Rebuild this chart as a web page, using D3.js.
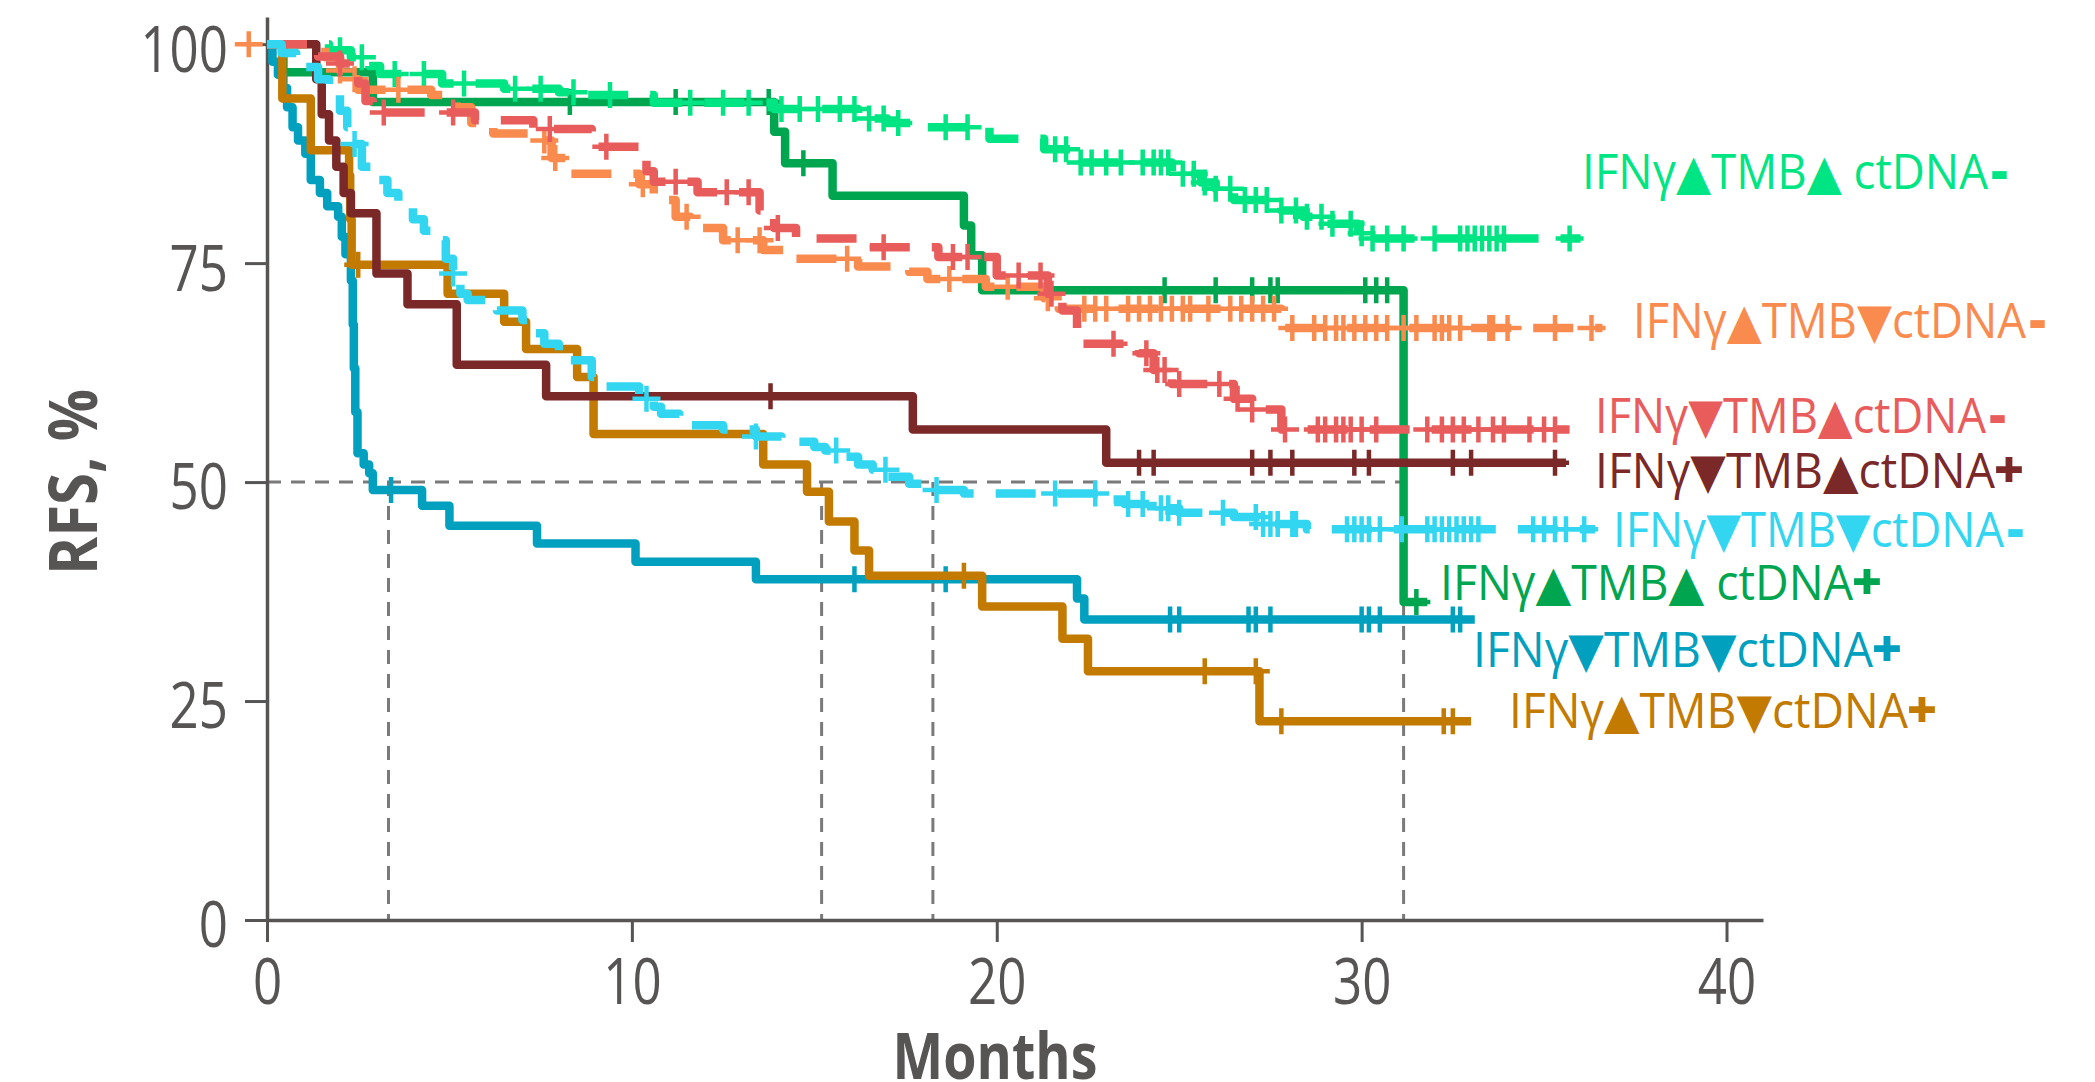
<!DOCTYPE html>
<html>
<head>
<meta charset="utf-8">
<title>RFS by IFNγ / TMB / ctDNA group</title>
<script src="https://cdn.jsdelivr.net/npm/d3@7"></script>
<style>
  html, body { margin: 0; padding: 0; background: #fff; }
  svg { display: block; }
  text { font-family: "Liberation Sans Narrow", "Open Sans", "DejaVu Sans", sans-serif; }
</style>
</head>
<body>
<script>
// ---- data: [month, RFS %] after each drop, curve starts at (0,100)

// IFNγ▲TMB▲ ctDNA-
var greenLightSteps = [[1.7,99.3],[2.3,98.5],[2.8,97.5],[3.1,96.6],[4.8,95.5],[6.5,94.9],[8.0,94.5],[8.8,94.2],[10.6,93.3],[13.9,92.6],[16.2,91.5],[17.0,91.0],[18.0,90.5],[19.8,89.2],[21.3,88.0],[22.2,86.5],[24.8,85.2],[25.6,84.2],[26.0,83.5],[26.5,82.2],[27.8,81.0],[28.4,80.3],[29.0,79.5],[29.9,78.4],[30.2,77.8]];
var greenLightCensor = [2.0,2.6,3.5,4.3,5.4,6.8,7.5,8.4,9.4,11.6,12.5,13.2,14.1,14.6,15.1,15.7,16.1,16.5,16.9,17.3,18.6,19.2,21.6,21.9,22.3,22.6,23.0,23.4,24.0,24.3,24.5,24.7,25.1,25.4,25.7,26.0,26.4,26.8,27.1,27.4,27.8,28.2,28.5,28.9,29.2,29.7,30.0,30.3,30.7,31.15,32.0,32.7,32.9,33.1,33.3,33.5,33.7,33.9,35.7];
var greenLightEnd = 36.0;

// IFNγ▲TMB▼ctDNA-
var orangeSteps = [[1.6,98.5],[2.0,97.0],[2.2,96.0],[2.5,94.8],[4.5,94.2],[5.2,92.8],[5.6,91.0],[6.2,89.8],[7.4,89.0],[7.8,87.0],[8.2,85.2],[10.2,84.0],[10.6,82.2],[11.2,80.3],[11.6,79.0],[12.5,77.6],[13.6,76.5],[14.5,75.5],[16.2,74.6],[17.6,74.0],[18.1,73.2],[19.7,72.3],[21.3,71.0],[21.7,69.8],[27.8,67.6]];
var orangeCensor = [-0.5,2.0,2.4,3.6,7.6,7.9,10.3,11.5,12.9,13.5,15.9,18.7,20.3,21.4,22.4,22.7,23.0,23.6,23.9,24.2,24.5,24.8,25.1,25.3,25.8,26.4,26.7,27.0,27.3,27.6,28.1,28.7,29.0,29.3,29.5,29.8,30.1,30.4,30.7,31.15,31.5,32.0,32.2,32.4,32.7,33.5,33.6,34.0,35.3,36.3];
var orangeEnd = 36.6;

// IFNγ▼TMB▲ctDNA-
var redSteps = [[1.4,98.6],[2.0,97.8],[2.4,97.1],[2.5,95.5],[2.7,93.5],[2.9,92.2],[5.7,91.3],[7.3,90.3],[8.9,88.3],[10.4,85.5],[10.6,84.3],[11.8,83.1],[13.5,81.0],[13.9,79.0],[14.5,77.8],[16.5,76.8],[18.4,75.7],[20.0,73.6],[21.4,71.5],[21.8,69.6],[22.2,65.8],[23.9,64.7],[24.3,62.8],[24.8,61.2],[26.5,59.5],[27.0,58.3],[27.8,56.0]];
var redCensor = [2.0,3.2,5.1,7.75,9.3,11.2,12.6,13.2,14.0,16.9,18.8,19.2,20.6,21.2,21.5,23.2,24.1,24.4,24.6,25.0,26.1,26.6,27.0,27.9,28.8,29.0,29.3,29.5,29.7,30.0,30.4,31.8,32.2,32.5,32.8,33.2,33.6,33.9,34.6,35.0,35.3];
var redEnd = 35.7;

// IFNγ▼TMB▲ctDNA+
var maroonSteps = [[1.35,96.0],[1.5,92.0],[1.7,89.0],[1.9,86.0],[2.1,83.0],[2.3,80.7],[3.0,73.8],[3.85,70.3],[5.2,63.4],[7.65,59.8],[17.7,56.0],[23.0,52.2]];
var maroonCensor = [13.8,23.9,24.3,27.0,27.5,28.1,29.8,30.2,32.5,33.0,35.3];
var maroonEnd = 35.6;

// IFNγ▼TMB▼ctDNA-
var cyanSteps = [[0.4,99.0],[0.8,98.0],[1.0,97.4],[1.4,96.0],[1.7,94.7],[2.0,92.4],[2.2,90.5],[2.4,88.6],[2.6,86.0],[3.0,84.5],[3.3,83.0],[3.6,81.4],[4.0,80.0],[4.3,78.7],[4.6,77.6],[4.9,75.5],[5.1,73.8],[5.3,71.5],[5.5,70.8],[6.3,69.6],[7.0,68.5],[7.3,67.0],[7.6,65.8],[8.0,63.9],[8.9,62.0],[9.3,60.9],[10.2,59.5],[10.6,58.6],[10.8,57.8],[11.3,56.5],[12.5,56.0],[13.4,55.2],[14.1,54.6],[15.0,54.0],[15.3,53.6],[15.8,52.9],[16.2,52.0],[16.6,51.4],[17.0,50.6],[17.6,49.8],[18.2,49.1],[19.1,48.7],[22.8,48.0],[23.5,47.5],[24.5,47.0],[25.0,46.5],[26.5,46.0],[27.2,45.2],[28.5,44.6]];
var cyanCensor = [2.4,5.1,10.4,13.4,15.6,16.95,18.35,21.6,22.7,23.6,24.0,24.5,24.7,25.0,26.2,27.1,27.3,27.5,27.7,28.1,28.2,29.6,29.8,30.0,30.2,30.5,31.1,31.8,32.0,32.2,32.4,32.6,32.8,33.0,33.2,34.7,35.0,35.3,35.6,36.1];
var cyanEnd = 36.4;

// IFNγ▲TMB▲ ctDNA+
var greenDarkSteps = [[0.45,96.8],[2.9,93.4],[13.9,90.0],[14.2,86.4],[15.5,82.7],[19.1,79.3],[19.3,75.9],[19.6,71.9],[31.15,36.3]];
var greenDarkCensor = [8.3,11.2,13.75,14.7,24.6,26.0,27.0,27.5,27.7,30.1,30.4,30.7,31.5];
var greenDarkEnd = 31.8;

// IFNγ▼TMB▼ctDNA+
var tealSteps = [[0.15,98.0],[0.3,96.5],[0.45,95.0],[0.55,92.8],[0.7,90.5],[0.85,89.0],[1.05,87.5],[1.2,84.5],[1.45,83.0],[1.65,81.5],[1.95,80.3],[2.05,78.0],[2.15,76.0],[2.3,73.0],[2.35,68.0],[2.38,63.0],[2.42,58.0],[2.48,53.3],[2.65,52.0],[2.8,51.0],[2.9,49.1],[4.25,47.3],[5.0,45.0],[7.4,43.0],[10.1,40.9],[13.4,38.9],[22.2,36.7],[22.4,34.3]];
var tealCensor = [3.4,16.1,18.6,24.75,25.0,26.9,27.1,27.5,30.0,30.2,30.5,32.5,32.7];
var tealEnd = 33.1;

// IFNγ▲TMB▼ctDNA+
var goldSteps = [[0.42,93.8],[1.2,87.9],[2.25,85.0],[2.28,80.0],[2.32,74.8],[4.95,71.5],[6.5,68.3],[7.1,65.2],[8.5,62.0],[8.95,55.5],[13.6,52.0],[14.8,48.9],[15.4,45.5],[16.1,42.2],[16.5,39.3],[19.6,35.8],[21.8,32.1],[22.5,28.4],[27.2,22.7]];
var goldCensor = [2.5,19.1,25.7,27.1,27.8,32.25,32.5];
var goldEnd = 33.0;

// median lines (months where curves cross 50 %)
var medianMonths = [3.33, 15.2, 18.25, 31.15];

var xTicks = [0, 10, 20, 30, 40];
var yTicks = [0, 25, 50, 75, 100];

var groupNames = ["IFNγ▲TMB▲ ctDNA", "IFNγ▲TMB▼ctDNA", "IFNγ▼TMB▲ctDNA", "IFNγ▼TMB▲ctDNA",
                  "IFNγ▼TMB▼ctDNA", "IFNγ▲TMB▲ ctDNA", "IFNγ▼TMB▼ctDNA", "IFNγ▲TMB▼ctDNA"];
var groupSign = ["-", "-", "-", "+", "-", "+", "+", "+"];

// ---- styles
var colors = ["#00e583", "#f98b4f", "#e85c5c", "#7a2828", "#33d6f0", "#00a64f", "#00a0be", "#c27a00"];
var dashed = [true, true, true, false, true, false, false, false];
// label layout: [left x, baseline y, width] in pixels
var labelPos = [[1582,189,427],[1633,338,414],[1595,433,412],[1595,488,426],
                [1613,547,412],[1440,600,439],[1473,667,426],[1509,728,425]];

var series = [
  {steps: greenLightSteps, censor: greenLightCensor, end: greenLightEnd},
  {steps: orangeSteps, censor: orangeCensor, end: orangeEnd},
  {steps: redSteps, censor: redCensor, end: redEnd},
  {steps: maroonSteps, censor: maroonCensor, end: maroonEnd},
  {steps: cyanSteps, censor: cyanCensor, end: cyanEnd},
  {steps: greenDarkSteps, censor: greenDarkCensor, end: greenDarkEnd},
  {steps: tealSteps, censor: tealCensor, end: tealEnd},
  {steps: goldSteps, censor: goldCensor, end: goldEnd}
];
series.forEach(function(s, i) {
  s.name = groupNames[i];
  s.sign = groupSign[i];
  s.color = colors[i];
  s.dashed = dashed[i];
  s.label = labelPos[i];
});

var width = 2095, height = 1082;
var axisColor = "#575454";

var svg = d3.select("body").append("svg")
  .attr("width", width)
  .attr("height", height);

var x = d3.scaleLinear().domain([0, 41]).range([267, 1763]);
var y = d3.scaleLinear().domain([0, 103.1]).range([920, 17]);

// step value at time t
function valueAt(s, t) {
  var v = 100;
  s.steps.forEach(function(p) { if (p[0] <= t) v = p[1]; });
  return v;
}

// reference dashed lines
var ref = svg.append("g")
  .attr("stroke", "#7a7a7a")
  .attr("stroke-width", 3)
  .attr("stroke-dasharray", "14,10")
  .attr("fill", "none");
ref.append("line")
  .attr("x1", x(0)).attr("x2", x(d3.max(medianMonths)))
  .attr("y1", y(50)).attr("y2", y(50));
ref.selectAll(".vline")
  .data(medianMonths)
  .enter().append("line")
  .attr("class", "vline")
  .attr("x1", function(d) { return x(d); })
  .attr("x2", function(d) { return x(d); })
  .attr("y1", y(50)).attr("y2", y(0));

// axes
var xAxis = svg.append("g")
  .attr("transform", "translate(0," + y(0) + ")")
  .call(d3.axisBottom(x).tickValues(xTicks).tickSize(22).tickSizeOuter(0).tickPadding(17));
var yAxis = svg.append("g")
  .attr("transform", "translate(" + x(0) + ",0)")
  .call(d3.axisLeft(y).tickValues(yTicks).tickSize(22).tickSizeOuter(0).tickPadding(17));

[xAxis, yAxis].forEach(function(g) {
  g.select(".domain").attr("stroke", axisColor).attr("stroke-width", 3.5);
  g.selectAll(".tick line").attr("stroke", axisColor).attr("stroke-width", 3);
  g.selectAll(".tick text")
    .attr("fill", axisColor)
    .style("font-size", "64px")
    .attr("textLength", function(d) { return String(d).length * 29.2; })
    .attr("lengthAdjust", "spacingAndGlyphs");
});
yAxis.selectAll(".tick text").attr("dy", "0.42em");

// axis titles
svg.append("text")
  .attr("x", 995)
  .attr("y", 1079)
  .attr("text-anchor", "middle")
  .attr("fill", axisColor)
  .style("font-size", "64px")
  .style("font-weight", "bold")
  .attr("textLength", 205)
  .attr("lengthAdjust", "spacingAndGlyphs")
  .text("Months");

svg.append("text")
  .attr("transform", "translate(97," + y(50) + ") rotate(-90)")
  .attr("text-anchor", "middle")
  .attr("fill", axisColor)
  .style("font-size", "66px")
  .style("font-weight", "bold")
  .attr("textLength", 186)
  .attr("lengthAdjust", "spacingAndGlyphs")
  .text("RFS, %");

// curves: solid ones first, dashed on top
var line = d3.line()
  .x(function(d) { return x(d[0]); })
  .y(function(d) { return y(d[1]); })
  .curve(d3.curveStepAfter);

var drawOrder = [5, 6, 7, 3, 0, 1, 2, 4];

drawOrder.forEach(function(i) {
  var s = series[i];
  var pts = [[0, 100]].concat(s.steps);
  pts.push([s.end, s.steps[s.steps.length - 1][1]]);
  var g = svg.append("g");

  g.append("path")
    .datum(pts)
    .attr("d", line)
    .attr("fill", "none")
    .attr("stroke", s.color)
    .attr("stroke-width", 8.5)
    .attr("stroke-linejoin", "round")
    .attr("stroke-dasharray", s.dashed ? "40,22" : null);

  // censor marks (+)
  g.selectAll(".censor")
    .data(s.censor)
    .enter().append("path")
    .attr("class", "censor")
    .attr("d", function(t) {
      var cx = x(t), cy = y(valueAt(s, t));
      return "M" + (cx - 14) + "," + cy + "H" + (cx + 14) + "M" + cx + "," + (cy - 13) + "V" + (cy + 13);
    })
    .attr("stroke", s.color)
    .attr("stroke-width", 4.5)
    .attr("fill", "none");
});

// group labels at the right end of curves; the heavy +/- sign is its own text
series.forEach(function(s) {
  var signW = s.sign == "+" ? 24 : 19;
  svg.append("text")
    .attr("x", s.label[0])
    .attr("y", s.label[1])
    .attr("fill", s.color)
    .style("font-size", "49px")
    .attr("textLength", s.label[2] - signW - 2)
    .attr("lengthAdjust", "spacingAndGlyphs")
    .text(s.name);
  svg.append("text")
    .attr("x", s.label[0] + s.label[2] - signW / 2)
    .attr("y", s.label[1])
    .attr("text-anchor", "middle")
    .attr("fill", s.color)
    .style("font-size", "52px")
    .style("font-weight", 900)
    .text(s.sign);
});
</script>
</body>
</html>
